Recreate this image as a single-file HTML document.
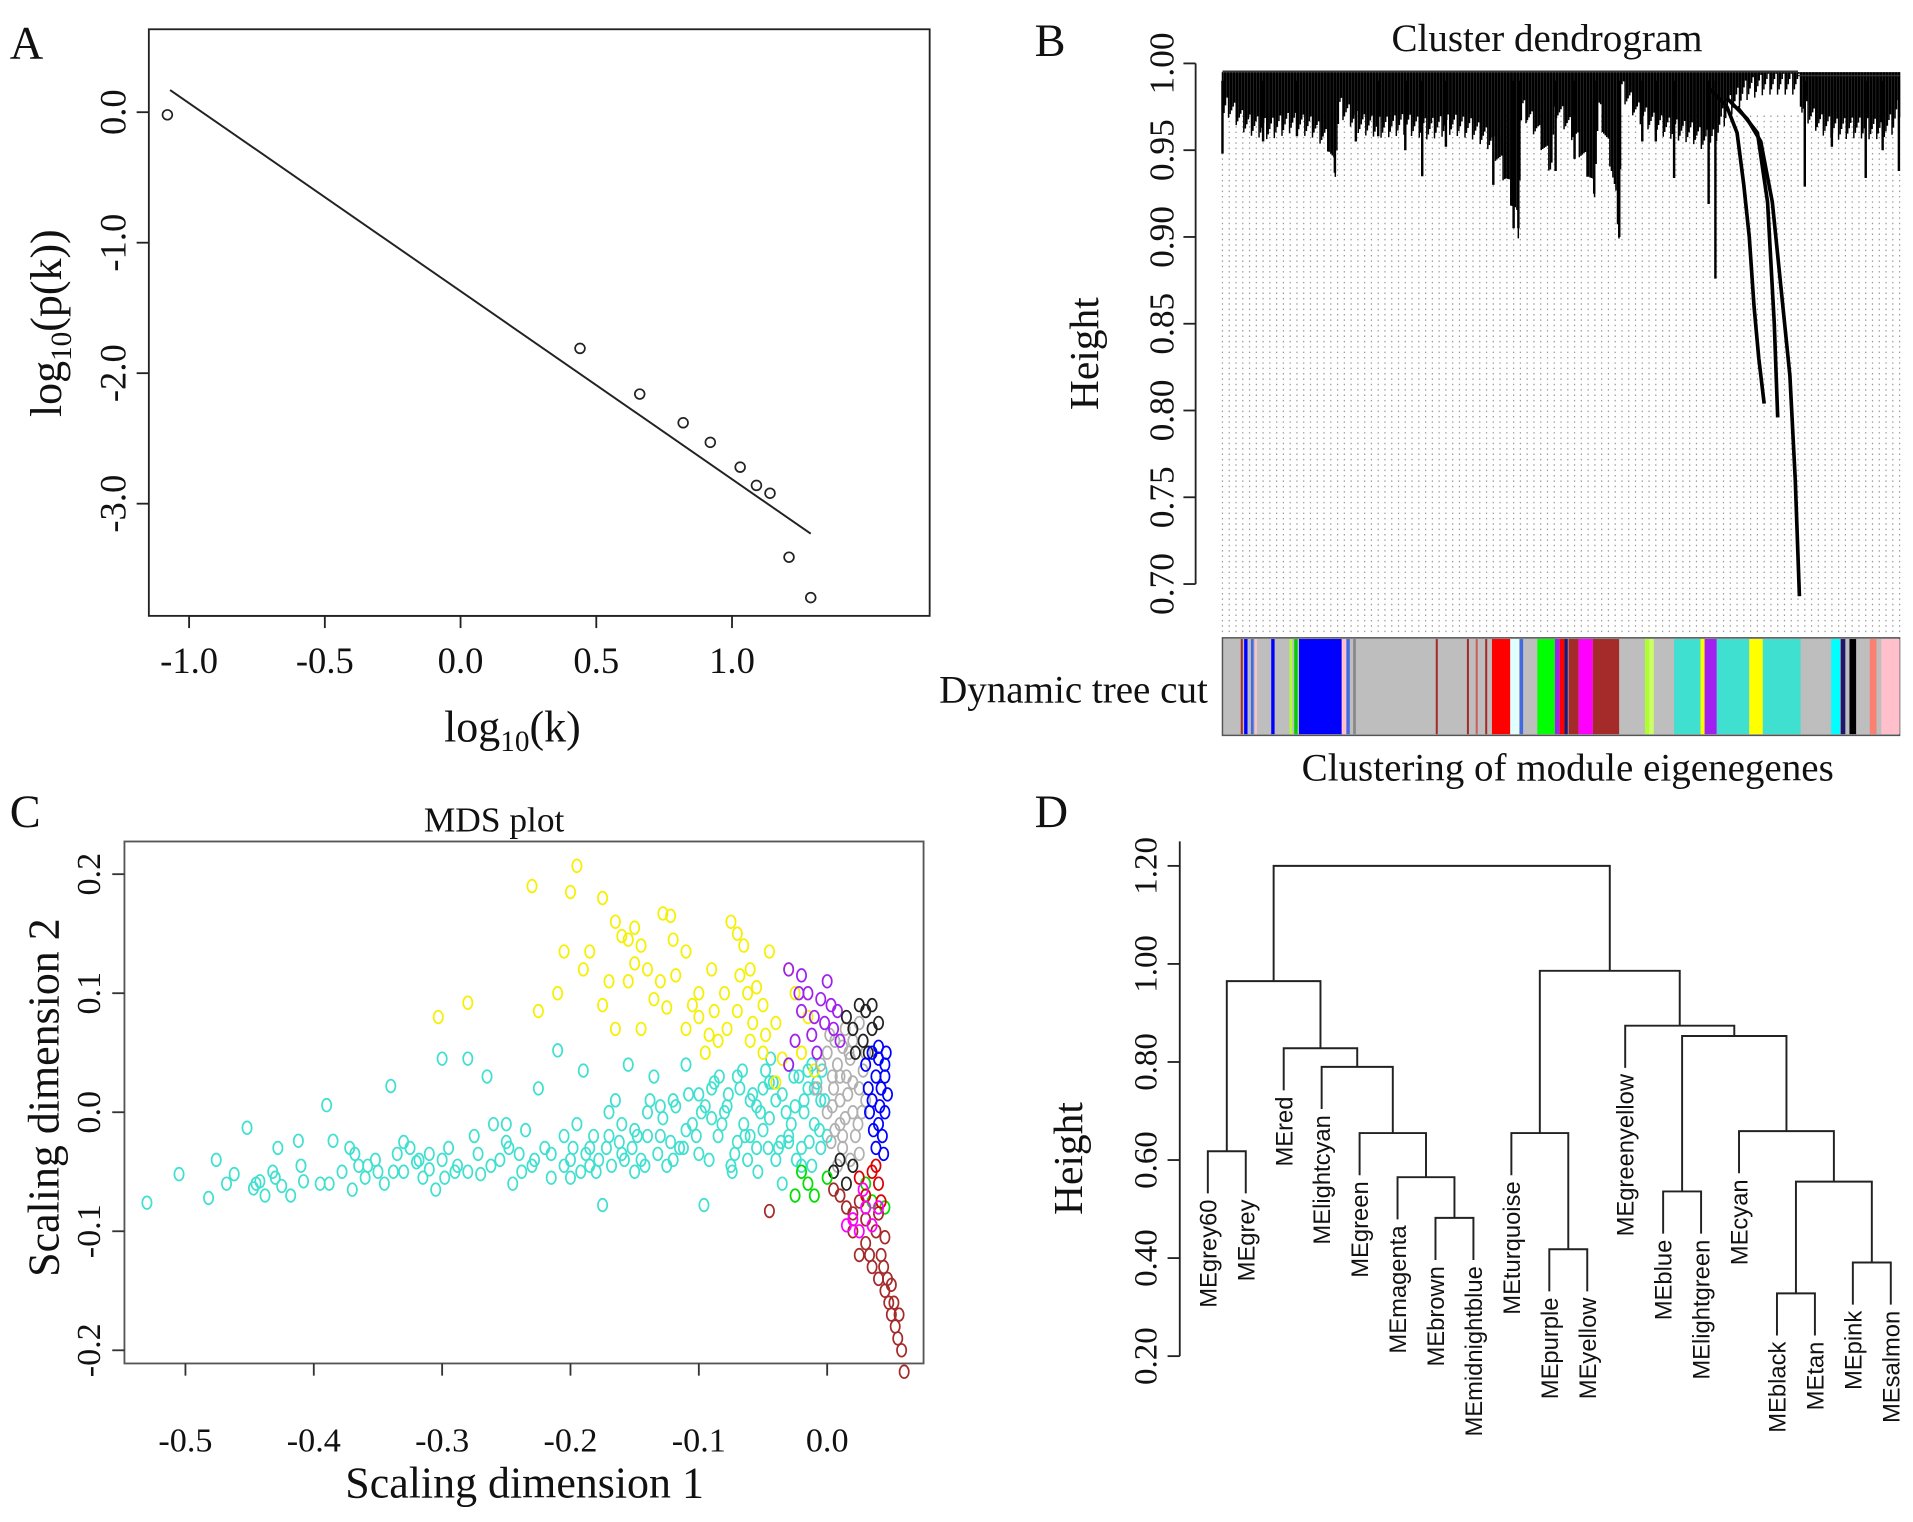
<!DOCTYPE html>
<html><head><meta charset="utf-8"><style>
html,body{margin:0;padding:0;background:#fff;}
svg{display:block;}
text{font-family:"Liberation Serif",serif;fill:#111;}
.sans{font-family:"Liberation Sans",sans-serif;}
</style></head><body>
<svg id="fig" xmlns="http://www.w3.org/2000/svg" width="1913" height="1522" viewBox="0 0 1568 1248" preserveAspectRatio="none">
<rect width="1568" height="1248" fill="#fff"/>
<g id="pa"></g>
<g id="pb"></g>
<g id="pc"></g>
<g id="pd"></g>
</svg>
<script>
// ---------- Panel A data ----------
const aX = [-1.08, 0.44, 0.66, 0.82, 0.92, 1.03, 1.09, 1.14, 1.21, 1.29];
const aY = [-0.02, -1.81, -2.16, -2.38, -2.53, -2.72, -2.86, -2.92, -3.41, -3.72];
const aFitX = [-1.07, 1.29];
const aFitY = [0.17, -3.23];
const aXTicks = [-1.0, -0.5, 0.0, 0.5, 1.0];
const aYTicks = [0.0, -1.0, -2.0, -3.0];

// ---------- Panel B data ----------
const bTicks = [1.00, 0.95, 0.90, 0.85, 0.80, 0.75, 0.70];
const bProfF = [0,0.008,0.035,0.069,0.102,0.136,0.156,0.166,0.173,0.203,0.237,0.270,0.304,0.338,0.371,0.398,0.418,0.432,0.437,0.442,0.465,0.486,0.492,0.519,0.539,0.549,0.556,0.573,0.583,0.586,0.590,0.613,0.640,0.667,0.694,0.714,0.728,0.748,0.775,0.80,0.852,0.855,0.882,0.909,0.936,0.963,0.990,1.0];
const bProfH = [0.97,0.975,0.965,0.962,0.966,0.963,0.955,0.937,0.975,0.965,0.963,0.965,0.962,0.965,0.962,0.955,0.935,0.915,0.905,0.975,0.962,0.94,0.975,0.96,0.94,0.925,0.975,0.945,0.915,0.900,0.985,0.972,0.965,0.962,0.96,0.955,0.96,0.975,0.985,0.988,0.988,0.975,0.965,0.962,0.963,0.962,0.965,0.975];
const bSpikeF = [0.0,0.166,0.197,0.23,0.295,0.437,0.492,0.549,0.586,0.64,0.667,0.718,0.728,0.95,0.86,0.999,0.40,0.43,0.06,0.11,0.27,0.33,0.52,0.62,0.90,0.975];
const bSpikeH = [0.948,0.937,0.955,0.958,0.935,0.905,0.938,0.925,0.900,0.955,0.934,0.919,0.876,0.934,0.929,0.938,0.93,0.905,0.955,0.958,0.95,0.952,0.945,0.955,0.952,0.95];
const bSpine1F = [0.72,0.745,0.76,0.77,0.778,0.785,0.792,0.80];
const bSpine1H = [0.985,0.975,0.96,0.93,0.90,0.86,0.83,0.804];
const bSpine2F = [0.745,0.775,0.795,0.812,0.825,0.838,0.846,0.852];
const bSpine2H = [0.98,0.968,0.955,0.92,0.87,0.82,0.76,0.693];
const bSpine3F = [0.76,0.79,0.805,0.815,0.82];
const bSpine3H = [0.975,0.96,0.92,0.85,0.796];
const bColF = [0.027,0.032,0.042,0.048,0.072,0.099,0.106,0.113,0.176,0.183,0.193,0.315,0.361,0.374,0.388,0.398,0.425,0.439,0.465,0.491,0.498,0.505,0.511,0.526,0.547,0.586,0.624,0.630,0.667,0.706,0.712,0.730,0.778,0.798,0.854,0.899,0.913,0.920,0.926,0.936,0.956,0.966,0.973];
const bColW = [0.003,0.005,0.004,0.003,0.005,0.004,0.005,0.064,0.007,0.005,0.004,0.003,0.003,0.003,0.003,0.027,0.013,0.005,0.026,0.007,0.007,0.005,0.015,0.021,0.039,0.037,0.007,0.007,0.039,0.007,0.018,0.048,0.020,0.056,0.003,0.013,0.007,0.004,0.010,0.006,0.010,0.007,0.027];
const bColC = ["#a52a2a","#0000ff","#4169e1","#ffc0cb","#0000ff","#adff2f","#00cc00","#0000ff","#ffc0cb","#4169e1","#888888","#a52a2a","#a52a2a","#cd5c5c","#a52a2a","#ff0000","#e0ffff","#4169e1","#00ff00","#a020f0","#ff0000","#191970","#a52a2a","#ff00ff","#a52a2a","#bebebe","#adff2f","#ccff66","#40e0d0","#ffff00","#a020f0","#40e0d0","#ffff00","#40e0d0","#bebebe","#00ffff","#191970","#bebebe","#000000","#bebebe","#fa8072","#bebebe","#ffc0cb"];

// ---------- Panel C data ----------
const cyanX=[-0.53,-0.505,-0.482,-0.476,-0.468,-0.462,-0.452,-0.447,-0.442,-0.438,-0.432,-0.428,-0.425,-0.418,-0.412,-0.408,-0.395,-0.39,-0.385,-0.378,-0.372,-0.37,-0.365,-0.36,-0.352,-0.345,-0.34,-0.335,-0.33,-0.325,-0.32,-0.315,-0.31,-0.305,-0.3,-0.295,-0.29,-0.28,-0.275,-0.27,-0.265,-0.26,-0.255,-0.25,-0.245,-0.24,-0.235,-0.23,-0.225,-0.22,-0.215,-0.21,-0.205,-0.2,-0.195,-0.19,-0.185,-0.18,-0.175,-0.17,-0.165,-0.16,-0.155,-0.15,-0.145,-0.14,-0.135,-0.13,-0.125,-0.12,-0.115,-0.11,-0.105,-0.1,-0.096,-0.09,-0.085,-0.08,-0.075,-0.07,-0.065,-0.06,-0.055,-0.05,-0.045,-0.04,-0.035,-0.03,-0.025,-0.02,-0.015,-0.01,-0.005,0.0,-0.06,-0.09,-0.12,-0.15,-0.2,-0.25,-0.3,-0.35,-0.28,-0.022,-0.012,-0.035,-0.048,-0.11,-0.07,-0.008,-0.028,-0.04,-0.018,-0.005,-0.055,-0.062,-0.077,-0.095,-0.13,-0.16,-0.17,-0.185,-0.33,-0.31,-0.045,-0.03,-0.015,-0.05,-0.1,-0.14,
-0.002,-0.006,-0.01,-0.014,-0.018,-0.024,-0.026,-0.032,-0.036,-0.042,-0.046,-0.052,-0.058,-0.064,-0.068,-0.072,-0.078,-0.082,-0.088,-0.092,-0.098,-0.102,-0.108,-0.112,-0.118,-0.122,-0.128,-0.132,-0.138,-0.142,-0.148,-0.152,-0.158,-0.162,-0.168,-0.172,-0.178,-0.182,-0.188,-0.192,-0.198,-0.205,-0.215,-0.228,-0.238,-0.248,-0.262,-0.272,-0.288,-0.298,-0.318,-0.338,-0.358,-0.368,-0.388,-0.41,-0.43,-0.445,-0.004,-0.012,-0.02,-0.03,-0.038,-0.044,-0.054,-0.066,-0.074,-0.084];
const cyanY=[-0.076,-0.052,-0.072,-0.04,-0.06,-0.052,-0.013,-0.064,-0.058,-0.07,-0.05,-0.03,-0.062,-0.07,-0.024,-0.058,-0.06,0.006,-0.024,-0.05,-0.03,-0.065,-0.045,-0.055,-0.04,-0.06,0.022,-0.035,-0.05,-0.03,-0.042,-0.055,-0.048,-0.065,0.045,-0.03,-0.05,0.045,-0.02,-0.052,0.03,-0.01,-0.04,-0.025,-0.06,-0.035,-0.015,-0.045,0.02,-0.03,-0.055,0.052,-0.02,-0.04,-0.01,0.035,-0.03,-0.05,-0.078,-0.02,0.01,-0.035,0.04,-0.015,-0.04,0.0,0.03,-0.02,-0.045,0.01,-0.03,0.04,-0.01,-0.035,-0.078,0.02,-0.02,0.0,-0.045,0.03,-0.01,0.01,-0.03,0.02,-0.005,-0.04,0.015,-0.02,0.005,-0.03,0.02,-0.01,0.01,-0.02,-0.02,-0.005,-0.04,-0.05,-0.055,-0.01,-0.04,-0.05,-0.05,0.03,-0.045,-0.06,0.035,-0.015,-0.025,0.025,-0.01,0.01,0.0,-0.03,0.005,-0.04,0.015,0.005,0.005,-0.01,0.0,-0.045,-0.025,-0.035,0.025,-0.025,0.035,-0.015,0.015,-0.02,
0.01,-0.015,0.02,-0.025,0.01,-0.04,0.03,0.0,-0.025,0.025,-0.03,0.0,0.015,-0.02,0.02,-0.035,0.005,-0.01,0.025,-0.04,0.0,-0.02,0.015,-0.03,0.005,-0.025,-0.005,-0.035,0.01,-0.045,-0.02,-0.03,-0.04,-0.025,-0.045,-0.03,-0.04,-0.02,-0.035,-0.05,-0.03,-0.045,-0.035,-0.04,-0.05,-0.03,-0.045,-0.035,-0.045,-0.055,-0.04,-0.05,-0.045,-0.035,-0.06,-0.045,-0.055,-0.06,0.035,0.04,-0.045,0.04,-0.03,0.045,-0.05,0.035,-0.05,0.03];
const yellowX=[-0.23,-0.195,-0.2,-0.175,-0.165,-0.15,-0.145,-0.128,-0.122,-0.12,-0.14,-0.16,-0.185,-0.205,-0.21,-0.225,-0.19,-0.17,-0.155,-0.13,-0.125,-0.11,-0.1,-0.1,-0.09,-0.075,-0.07,-0.065,-0.06,-0.055,-0.05,-0.045,-0.085,-0.095,-0.145,-0.165,-0.175,-0.28,-0.303,-0.04,-0.03,-0.07,-0.06,-0.05,-0.035,-0.02,-0.015,-0.025,-0.11,-0.135,-0.08,-0.04,-0.01,-0.155,-0.15,-0.118,-0.105,-0.088,-0.068,-0.058,-0.048,-0.062,-0.078,-0.092];
const yellowY=[0.19,0.207,0.185,0.18,0.16,0.155,0.14,0.167,0.165,0.145,0.12,0.148,0.135,0.135,0.1,0.085,0.12,0.11,0.11,0.11,0.088,0.135,0.1,0.08,0.12,0.16,0.15,0.14,0.12,0.105,0.09,0.135,0.06,0.05,0.07,0.07,0.09,0.092,0.08,0.075,0.12,0.085,0.06,0.05,0.045,0.05,0.08,0.1,0.07,0.095,0.1,0.025,0.035,0.145,0.125,0.115,0.09,0.085,0.115,0.075,0.065,0.1,0.07,0.065];
const purpleX=[-0.03,-0.02,-0.015,-0.01,-0.005,0.0,0.003,-0.02,-0.012,0.005,0.01,-0.025,-0.03,0.008,-0.008,-0.022,-0.002];
const purpleY=[0.12,0.115,0.1,0.08,0.095,0.11,0.09,0.085,0.065,0.07,0.06,0.06,0.04,0.085,0.05,0.1,0.075];
const greyX=[0.0,0.005,0.01,0.015,0.02,0.025,0.008,0.012,0.018,0.003,0.022,0.028,0.006,0.014,0.0,0.02,0.025,0.01,0.016,0.004,-0.005,0.03,0.018,0.008,0.025,0.012,-0.008,0.002,0.03,0.006,0.014,0.02,0.024,0.01,0.004,0.017,0.027,0.012];
const greyY=[0.0,0.02,-0.01,0.03,0.0,0.02,0.04,-0.03,0.045,-0.025,-0.02,0.035,0.06,0.07,0.05,0.06,0.075,0.01,0.015,0.03,0.04,0.01,-0.04,-0.045,-0.035,0.055,0.02,0.065,0.05,-0.015,-0.005,0.025,-0.01,0.03,0.005,0.05,0.0,-0.02];
const blackX=[0.015,0.025,0.03,0.035,0.02,0.028,0.035,0.04,0.022,0.032,0.01,0.005,0.015,0.02];
const blackY=[0.08,0.09,0.085,0.09,0.07,0.06,0.07,0.075,0.05,0.05,-0.04,-0.05,-0.06,-0.045];
const blueX=[0.035,0.04,0.045,0.038,0.042,0.045,0.04,0.035,0.043,0.038,0.045,0.04,0.032,0.047,0.036,0.041,0.044,0.03,0.046,0.033];
const blueY=[0.05,0.055,0.04,0.03,0.02,0.0,-0.01,0.01,-0.02,-0.03,0.03,0.045,0.02,0.015,-0.015,0.005,-0.035,0.04,0.05,0.0];
const brownX=[0.02,0.025,0.03,0.035,0.04,0.045,0.042,0.048,0.05,0.053,0.055,0.058,0.06,0.047,0.038,0.03,0.015,0.01,0.005,0.025,-0.045,0.04,0.045,0.052,0.056,0.033,0.044,0.05,0.02];
const brownY=[-0.1,-0.12,-0.11,-0.13,-0.14,-0.15,-0.12,-0.16,-0.17,-0.18,-0.19,-0.2,-0.218,-0.14,-0.1,-0.09,-0.08,-0.07,-0.065,-0.075,-0.083,-0.085,-0.105,-0.16,-0.17,-0.12,-0.13,-0.145,-0.085];
const redX=[0.035,0.04,0.03,0.025,0.042,0.038];
const redY=[-0.05,-0.06,-0.07,-0.055,-0.075,-0.045];
const magentaX=[0.02,0.025,0.03,0.035,0.015,0.04,0.028];
const magentaY=[-0.09,-0.1,-0.08,-0.095,-0.095,-0.08,-0.065];
const greenX=[-0.02,-0.015,-0.01,0.0,0.03,0.045,-0.025,0.035];
const greenY=[-0.05,-0.06,-0.07,-0.055,-0.06,-0.08,-0.07,-0.075];
const cXTicks=[-0.5,-0.4,-0.3,-0.2,-0.1,0.0];
const cYTicks=[0.2,0.1,0.0,-0.1,-0.2];

// ---------- Panel D data ----------
const dLeaves=["MEgrey60","MEgrey","MEred","MElightcyan","MEgreen","MEmagenta","MEbrown","MEmidnightblue","MEturquoise","MEpurple","MEyellow","MEgreenyellow","MEblue","MElightgreen","MEcyan","MEblack","MEtan","MEpink","MEsalmon"];
const dMergeA=[0,6,5,4,3,2,-1,9,8,12,15,17,-11,14,-10,11,-9,-7];
const dMergeB=[1,7,-2,-3,-4,-5,-6,10,-8,13,16,18,-12,-13,-14,-15,-16,-17];
const dMergeH=[0.618,0.482,0.565,0.655,0.790,0.828,0.965,0.418,0.655,0.536,0.328,0.391,0.556,0.659,0.853,0.874,0.986,1.20];
const dTicks=[0.20,0.40,0.60,0.80,1.00,1.20];
const dHang=0.086;

const NS="http://www.w3.org/2000/svg";
function mk(parent,tag,attrs,txt){const e=document.createElementNS(NS,tag);for(const k in attrs)e.setAttribute(k,attrs[k]);if(txt!==undefined)e.textContent=txt;parent.appendChild(e);return e;}
function fmt(v,d){return (v<0?"-":"")+Math.abs(v).toFixed(d);}

// ===== Panel A =====
(function(){
const g=document.getElementById('pa');
const sx=v=>377.5+v*222.5, sy=v=>92-v*107;
let t=mk(g,'text',{x:8,y:48,'font-size':38});t.textContent='A';


let r=mk(g,'rect',{x:122,y:24,width:640,height:481,fill:'none',stroke:'#222','stroke-width':1.5});


mk(g,'line',{x1:sx(-1),x2:sx(1),y1:505,y2:505,stroke:'#222','stroke-width':1.5});
aXTicks.forEach(v=>{mk(g,'line',{x1:sx(v),x2:sx(v),y1:505,y2:515,stroke:'#222','stroke-width':1.5});
 const tt=mk(g,'text',{x:sx(v),y:552,'font-size':30,'text-anchor':'middle'},v.toFixed(1));
 
 });
aYTicks.forEach(v=>{mk(g,'line',{x1:112,x2:122,y1:sy(v),y2:sy(v),stroke:'#222','stroke-width':1.5});
 const tt=mk(g,'text',{x:0,y:0,'font-size':30,'text-anchor':'middle',transform:`translate(103,${sy(v)}) rotate(-90)`},fmt(v,1));
 
 });
const fl=mk(g,'line',{x1:sx(aFitX[0]),y1:sy(aFitY[0]),x2:sx(aFitX[1]),y2:sy(aFitY[1]),stroke:'#222','stroke-width':1.6});


aX.forEach((x,i)=>{const c=mk(g,'circle',{cx:sx(x),cy:sy(aY[i]),r:4,fill:'none',stroke:'#222','stroke-width':1.4});
 
 });
const xl=mk(g,'text',{x:420,y:608,'font-size':36,'text-anchor':'middle'});
xl.innerHTML='log<tspan font-size="24" dy="8">10</tspan><tspan dy="-8">(k)</tspan>';


const yl=mk(g,'text',{'font-size':36,'text-anchor':'middle',transform:'translate(50,265) rotate(-90)'});
yl.innerHTML='log<tspan font-size="24" dy="8">10</tspan><tspan dy="-8">(p(k))</tspan>';


})();

// ===== Panel B =====
(function(){
const g=document.getElementById('pb');
const X0=1002,X1=1557;
const fx=f=>X0+f*(X1-X0), hy=h=>52+(1.0-h)*1423;
let t=mk(g,'text',{x:848,y:46,'font-size':38},'B');


t=mk(g,'text',{x:1268,y:42,'font-size':32,'text-anchor':'middle'},'Cluster dendrogram');


mk(g,'line',{x1:980,x2:980,y1:hy(1.0),y2:hy(0.70),stroke:'#222','stroke-width':1.5});
bTicks.forEach(v=>{mk(g,'line',{x1:970,x2:980,y1:hy(v),y2:hy(v),stroke:'#222','stroke-width':1.5});
 const tt=mk(g,'text',{'font-size':29,'text-anchor':'middle',transform:`translate(962,${hy(v)}) rotate(-90)`},v.toFixed(2));
 
 });
t=mk(g,'text',{'font-size':34,'text-anchor':'middle',transform:'translate(900,290) rotate(-90)'},'Height');


for(let i=0;i<=100;i++){const f=i/100;
 mk(g,'line',{x1:fx(f),x2:fx(f),y1:hy(0.97),y2:520,stroke:'#999','stroke-width':1,'stroke-dasharray':'1.2 3.2'});}
function prof(f){for(let i=1;i<bProfF.length;i++){if(f<=bProfF[i]){const a=bProfF[i-1],b=bProfF[i];const u=(f-a)/(b-a||1);return bProfH[i-1]+u*(bProfH[i]-bProfH[i-1]);}}return bProfH[bProfH.length-1];}
let d='';
let k=0;
for(let px=X0;px<=X1;px+=1.25){const f=(px-X0)/(X1-X0);k++;
 d+=`M${px.toFixed(1)} ${hy(0.995).toFixed(1)}V${hy(prof(f)+((k%5)-2)*0.003).toFixed(1)}`;}
const fr=mk(g,'path',{d:d,stroke:'#000','stroke-width':1.2,fill:'none'});


bSpikeF.forEach((f,i)=>{mk(g,'line',{x1:fx(f),x2:fx(f),y1:hy(0.99),y2:hy(bSpikeH[i]),stroke:'#000','stroke-width':2});});
[[bSpine1F,bSpine1H],[bSpine2F,bSpine2H],[bSpine3F,bSpine3H]].forEach(s=>{
 const pts=s[0].map((f,i)=>fx(f).toFixed(1)+','+hy(s[1][i]).toFixed(1)).join(' ');
 const pl=mk(g,'polyline',{points:pts,fill:'none',stroke:'#000','stroke-width':3});
 
 });
mk(g,'line',{x1:fx(0),x2:fx(0.85),y1:hy(0.9955),y2:hy(0.9955),stroke:'#333','stroke-width':1.2});
mk(g,'line',{x1:fx(0.85),x2:fx(1),y1:hy(0.993),y2:hy(0.993),stroke:'#333','stroke-width':1.2});
const cb=mk(g,'rect',{x:X0,y:523,width:X1-X0,height:80,fill:'#bebebe',stroke:'#555','stroke-width':1.2});


bColF.forEach((f,i)=>{const rr=mk(g,'rect',{x:fx(f),y:524,width:bColW[i]*(X1-X0),height:78,fill:bColC[i]});
 
 });
t=mk(g,'text',{x:990,y:576,'font-size':32,'text-anchor':'end'},'Dynamic tree cut');


t=mk(g,'text',{x:1285,y:640,'font-size':32,'text-anchor':'middle'},'Clustering of module eigenegenes');


})();

// ===== Panel C =====
(function(){
const g=document.getElementById('pc');
const sx=v=>678+v*1052, sy=v=>912-v*976;
let t=mk(g,'text',{x:8,y:678,'font-size':38},'C');


t=mk(g,'text',{x:405,y:682,'font-size':29,'text-anchor':'middle'},'MDS plot');


const fr=mk(g,'rect',{x:102,y:690,width:655,height:428,fill:'none',stroke:'#555','stroke-width':1.5});


cXTicks.forEach(v=>{mk(g,'line',{x1:sx(v),x2:sx(v),y1:1118,y2:1128,stroke:'#333','stroke-width':1.5});
 const tt=mk(g,'text',{x:sx(v),y:1190,'font-size':28,'text-anchor':'middle'},v.toFixed(1));
 
 });
cYTicks.forEach(v=>{mk(g,'line',{x1:92,x2:102,y1:sy(v),y2:sy(v),stroke:'#333','stroke-width':1.5});
 const tt=mk(g,'text',{'font-size':28,'text-anchor':'middle',transform:`translate(82,${sy(v)}) rotate(-90)`},v.toFixed(1));
 
 });
const series=[[cyanX,cyanY,'#40e0d0'],[yellowX,yellowY,'#f5f000'],[greyX,greyY,'#b0b0b0'],[purpleX,purpleY,'#a020f0'],[blackX,blackY,'#222'],[blueX,blueY,'#0000ff'],[greenX,greenY,'#00dd00'],[brownX,brownY,'#a52a2a'],[redX,redY,'#e00000'],[magentaX,magentaY,'#ff00ff']];
series.forEach(s=>{s[0].forEach((x,i)=>{const e=mk(g,'ellipse',{cx:sx(x),cy:sy(s[1][i]),rx:3.8,ry:5.2,fill:'none',stroke:s[2],'stroke-width':1.4});
 
 });});
t=mk(g,'text',{x:430,y:1228,'font-size':36,'text-anchor':'middle'},'Scaling dimension 1');


t=mk(g,'text',{'font-size':36,'text-anchor':'middle',transform:'translate(48,900) rotate(-90)'},'Scaling dimension 2');


})();

// ===== Panel D =====
(function(){
const g=document.getElementById('pd');
const lx=i=>990+i*31.1, hy=h=>710+(1.2-h)*402;
let t=mk(g,'text',{x:848,y:678,'font-size':38},'D');


mk(g,'line',{x1:967,x2:967,y1:hy(1.25),y2:hy(0.2),stroke:'#222','stroke-width':1.5});
dTicks.forEach(v=>{mk(g,'line',{x1:957,x2:967,y1:hy(v),y2:hy(v),stroke:'#222','stroke-width':1.5});
 const tt=mk(g,'text',{'font-size':27,'text-anchor':'middle',transform:`translate(948,${hy(v)}) rotate(-90)`},v.toFixed(2));
 
 });
t=mk(g,'text',{'font-size':34,'text-anchor':'middle',transform:'translate(887,950) rotate(-90)'},'Height');


const leafEnd=new Array(dLeaves.length).fill(0);
const nodeX=[],nodeH=[];
dMergeA.forEach((a,i)=>{const b=dMergeB[i],h=dMergeH[i];
 const info=c=>{if(c>=0&&!(c===0&&Object.is(c,-0))){leafEnd[c]=h-dHang;return [lx(c),h-dHang];}return [nodeX[-c-1],nodeH[-c-1]];};
 const A=info(a),B=info(b);
 nodeX[i]=(A[0]+B[0])/2;nodeH[i]=h;
 const p=mk(g,'path',{d:`M${A[0]} ${hy(A[1])}V${hy(h)}H${B[0]}V${hy(B[1])}`,fill:'none',stroke:'#222','stroke-width':1.6});
 
 });
dLeaves.forEach((n,i)=>{const tt=mk(g,'text',{class:'sans','font-size':19.5,'text-anchor':'end',transform:`translate(${lx(i)+7},${hy(leafEnd[i])+5}) rotate(-90)`},n);
 
 });
})();
</script>
</body></html>
